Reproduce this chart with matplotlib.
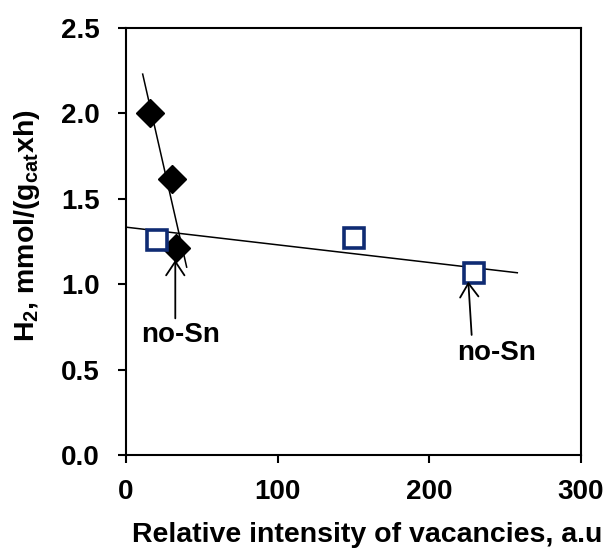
import matplotlib
matplotlib.use("Agg")
import matplotlib.pyplot as plt

plt.rcParams['font.family'] = ['Liberation Sans', 'DejaVu Sans']
plt.rcParams['font.weight'] = 'bold'
plt.rcParams['mathtext.fontset'] = 'custom'
plt.rcParams['mathtext.rm'] = 'Liberation Sans:bold'
plt.rcParams['mathtext.bf'] = 'Liberation Sans:bold'
plt.rcParams['mathtext.it'] = 'Liberation Sans:bold'
plt.rcParams['mathtext.default'] = 'bf'

# Data
sn_x = [15.8, 30.1, 33.0]          # diamonds
sn_y = [2.00, 1.615, 1.21]
vac_x = [20.6, 150.3, 229.4]       # squares
vac_y = [1.26, 1.27, 1.067]

trend1_x = [11, 40]
trend1_y = [2.23, 1.10]
trend2_x = [0.9, 258]
trend2_y = [1.333, 1.067]

xticks = [0, 100, 200, 300]
yticks = [0.0, 0.5, 1.0, 1.5, 2.0, 2.5]

FS = 20
LFS = 20.5

fig = plt.figure(figsize=(6.08, 5.57), dpi=100)
ax = fig.add_axes([126/608, 1-455/557, 455/608, 427/557])

ax.plot(trend1_x, trend1_y, color='black', lw=1.1, zorder=2)
ax.plot(trend2_x, trend2_y, color='black', lw=1.1, zorder=2)
ax.plot(sn_x, sn_y, linestyle='none', marker='D', ms=14, color='black', zorder=3)
ax.plot(vac_x, vac_y, linestyle='none', marker='s', ms=14, mfc='white',
        mec='#0f2b73', mew=2.6, zorder=3)

# Annotations: arrows pointing at the no-Sn samples
arrow_kw = dict(arrowstyle='->,head_length=0.45,head_width=0.3', color='black',
                lw=1.3, shrinkA=0, shrinkB=0, mutation_scale=22)
ax.annotate('', xy=(sn_x[2] - 0.5, 1.142), xytext=(sn_x[2] - 0.5, 0.80),
            arrowprops=arrow_kw)
ax.text(36.3, 0.70, 'no-Sn', ha='center', va='center', fontsize=FS, fontweight='bold')
ax.annotate('', xy=(vac_x[2] - 3.7, 1.015), xytext=(vac_x[2] - 1.5, 0.703),
            arrowprops=arrow_kw)
ax.text(244, 0.595, 'no-Sn', ha='center', va='center', fontsize=FS, fontweight='bold')

ax.set_xlim(0, 300)
ax.set_ylim(0, 2.5)
ax.set_xticks(xticks)
ax.set_yticks(yticks)
ax.set_xticklabels([str(v) for v in xticks])
ax.set_yticklabels([f'{v:.1f}' for v in yticks])
ax.tick_params(direction='out', length=6, width=1.5, labelsize=FS)
ax.tick_params(axis='x', pad=11)
ax.tick_params(axis='y', pad=13)
for s in ax.spines.values():
    s.set_linewidth(1.5)

ax.set_xlabel('Relative intensity of vacancies, a.u', fontsize=LFS, fontweight='bold')
ax.set_ylabel('H$_2$, mmol/(g$_{cat}$xh)', fontsize=LFS, fontweight='bold')
ax.xaxis.set_label_coords(0.53, -0.157)
ax.yaxis.set_label_coords(-0.185, 0.536)

fig.savefig('out.png', dpi=100)
